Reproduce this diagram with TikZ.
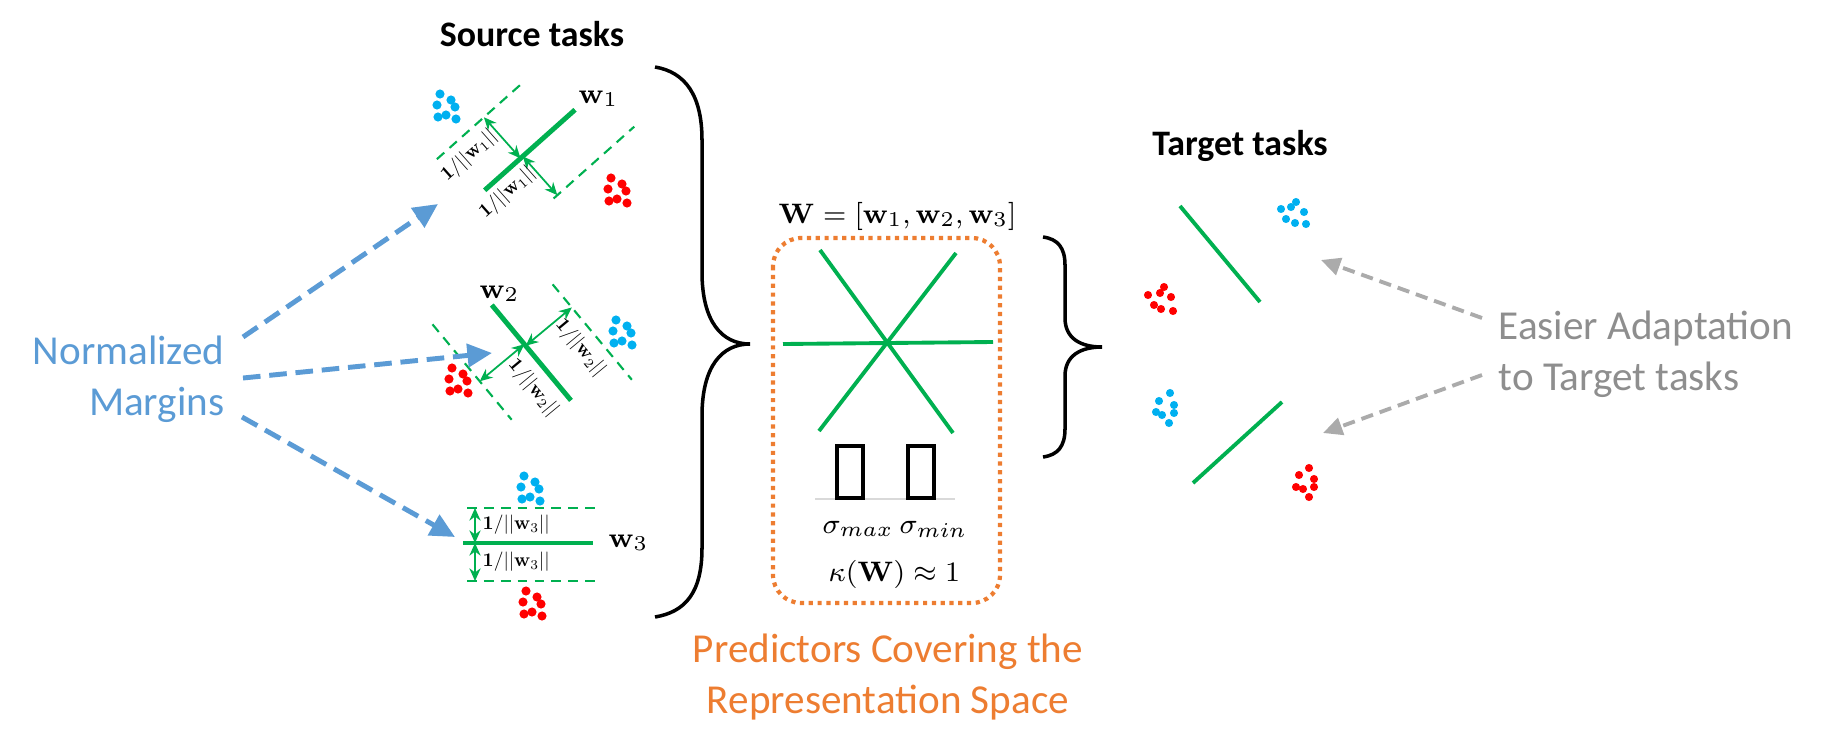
\documentclass[tikz,border=0pt]{standalone}
\usepackage{amsmath,amssymb}
\usepackage[no-math]{fontspec}
\setmainfont{Carlito}
\usetikzlibrary{arrows.meta}
\definecolor{sepgreen}{HTML}{00B050}
\definecolor{dotblue}{HTML}{00B0F0}
\definecolor{dotred}{HTML}{FF0000}
\definecolor{margblue}{HTML}{5B9BD5}
\definecolor{hintgray}{HTML}{ABABAB}
\definecolor{adapttext}{HTML}{8E8E8E}
\definecolor{covorange}{HTML}{ED7D31}
\newcommand{\clump}[3]{\foreach \dx/\dy in {-6/-12,5/-6,9/1,-9/-1,0/9,-8/11,10/13} {\fill[#1] (#2+\dx,#3+\dy) circle (1.3pt);}}
\newcommand{\invnorm}[1]{\scalebox{0.55}{\fontsize{10}{12}\selectfont$\mathbf{1}/||\mathbf{w}_{#1}||$}}

\begin{document}
\begin{tikzpicture}[x=0.01cm, y=-0.01cm, every node/.style={inner sep=0pt},
	>={Stealth[length=3.6pt,width=3.2pt]},
	sep/.style={sepgreen, line width=1.4pt},
	marg/.style={sepgreen, line width=0.6pt, dash pattern=on 2.8pt off 2pt},
	gap/.style={sepgreen, line width=0.5pt, <->},
	wlabel/.style={font=\fontsize{8.5}{10}\selectfont, anchor=base west},
	title/.style={font=\fontsize{10.2}{12}\selectfont\bfseries, anchor=base},
	callout/.style={font=\fontsize{11.7}{14.5}\selectfont},
	pointer/.style={margblue, line width=1.4pt, dash pattern=on 5pt off 2.5pt, -{Triangle[length=7pt,width=6.5pt]}},
	hint/.style={hintgray, line width=1.1pt, dash pattern=on 3.5pt off 2pt, -{Triangle[length=5.5pt,width=5pt]}},
	brace/.style={line width=1pt}]
	\useasboundingbox (0,0) rectangle (1830,751);
	% source tasks
	\node[title] (srctitle) at (532,46) {Source tasks};
	\begin{scope}[shift={(522,157)}, rotate=41.7]
		\draw[sep] (-50,0) -- (71,0);
		\draw[marg] (-65,-55) -- (52,-55); \draw[marg] (-4,52) -- (104,52);
		\draw[gap] (-2,0) -- (-2,-55); \draw[gap] (1,0) -- (1,52);
		\node[rotate=41.7] (gap1a) at (-39,-36) {\invnorm{1}};
		\node[rotate=41.7] (gap1b) at (-35,17) {\invnorm{1}};
	\end{scope}
	\clump{dotblue}{446}{106} \clump{dotred}{617}{190}
	\node[wlabel] (w1) at (578,103) {$\mathbf{w}_1$};
	\begin{scope}[shift={(525,345)}, rotate=-50.3]
		\draw[sep] (-52,0) -- (72,0);
		\draw[marg] (-29,-60) -- (95,-60); \draw[marg] (-75,58) -- (49,58);
		\draw[gap] (1,0) -- (1,-60); \draw[gap] (-1,0) -- (-1,58);
		\node[rotate=-50.3] (gap2a) at (37,-41) {\invnorm{2}};
		\node[rotate=-50.3] (gap2b) at (38,21) {\invnorm{2}};
	\end{scope}
	\clump{dotblue}{622}{332} \clump{dotred}{458}{380}
	\node[wlabel] (w2) at (479,298) {$\mathbf{w}_2$};
	\draw[sep] (463,543) -- (593,543);
	\draw[marg] (467,508) -- (602,508); \draw[marg] (467,581) -- (598,581);
	\draw[gap] (475,508) -- (475,543); \draw[gap] (475,543) -- (475,581);
	\node[anchor=west] (gap3a) at (482,525) {\invnorm{3}};
	\node[anchor=west] (gap3b) at (482,562) {\invnorm{3}};
	\clump{dotblue}{530}{488} \clump{dotred}{532}{603}
	\node[wlabel] (w3) at (608,547) {$\mathbf{w}_3$};
	% normalized margins
	\node[callout, text=margblue, align=right, anchor=base east] (margins) at (225,415) {Normalized\\Margins};
	\coordinate (m1) at (243,337); \coordinate (m2) at (243,378); \coordinate (m3) at (242,417);
	\coordinate (task1) at (438,204); \coordinate (task2) at (492,353); \coordinate (task3) at (455,537);
	\draw[pointer] (m1) -- (task1); \draw[pointer] (m2) -- (task2); \draw[pointer] (m3) -- (task3);
	\draw[brace] (655,67) .. controls (685,72) and (702,95) .. (702,140) -- (702,272) .. controls (702,322) and (722,344) .. (750,344)
		.. controls (722,344) and (702,366) .. (702,416) -- (702,548) .. controls (702,593) and (685,612) .. (655,617);
	% stacked predictors
	\node[wlabel, font=\fontsize{8.1}{10}\selectfont] (weq) at (778,223) {$\mathbf{W}=[\mathbf{w}_1,\mathbf{w}_2,\mathbf{w}_3]$};
	\draw[covorange, line width=1.2pt, dash pattern=on 1.2pt off 1.3pt, rounded corners=8pt] (773,238) rectangle (1000,603);
	\draw[sepgreen, line width=1.1pt] (820,250) -- (953,433); \draw[sepgreen, line width=1.1pt] (956,253) -- (819,431);
	\draw[sepgreen, line width=1.1pt] (783,344) -- (993,342);
	\draw[black!15, line width=0.4pt] (815,499) -- (955,499);
	\draw[line width=0.9pt] (837,446) rectangle (863,498); \draw[line width=0.9pt] (908,446) rectangle (934,498);
	\node[wlabel] (smax) at (822,533) {$\sigma_{max}$};
	\node[wlabel] (smin) at (899,533) {$\sigma_{min}$};
	\node[wlabel] (kappa) at (828,581) {$\kappa(\mathbf{W})\approx 1$};
	\node[callout, text=covorange, align=center, anchor=base] (cover) at (888,713) {Predictors Covering the\\Representation Space};
	\draw[brace] (1043,237) .. controls (1058,239) and (1065,248) .. (1065,265) -- (1065,318) .. controls (1065,338) and (1080,347) .. (1102,347)
		.. controls (1080,347) and (1065,356) .. (1065,376) -- (1065,429) .. controls (1065,446) and (1058,455) .. (1043,457);
	% target tasks
	\node[title] (tgttitle) at (1240,155) {Target tasks};
	\draw[sepgreen, line width=1.1pt] (1180,206) -- (1260,302); \draw[sepgreen, line width=1.1pt] (1282,402) -- (1193,483);
	\foreach \p in {(1296,202),(1291,207),(1281,209),(1304,212),(1286,219),(1295,223),(1306,224),(1170,393),(1159,401),(1174,405),(1156,412),(1162,415),(1174,413),(1169,423)} {\fill[dotblue] \p circle (1.15pt);}
	\foreach \p in {(1164,287),(1160,293),(1148,295),(1171,297),(1154,305),(1161,309),(1173,311),(1309,468),(1299,475),(1314,479),(1296,487),(1303,489),(1314,487),(1309,497)} {\fill[dotred] \p circle (1.15pt);}
	\node[callout, text=adapttext, align=left, anchor=base west] (adapt) at (1498,390) {Easier Adaptation\\to Target tasks};
	\coordinate (a1) at (1482,318); \coordinate (a2) at (1482,375);
	\coordinate (tgt1) at (1321,260); \coordinate (tgt2) at (1323,433);
	\draw[hint] (a1) -- (tgt1); \draw[hint] (a2) -- (tgt2);
\end{tikzpicture}
\end{document}
